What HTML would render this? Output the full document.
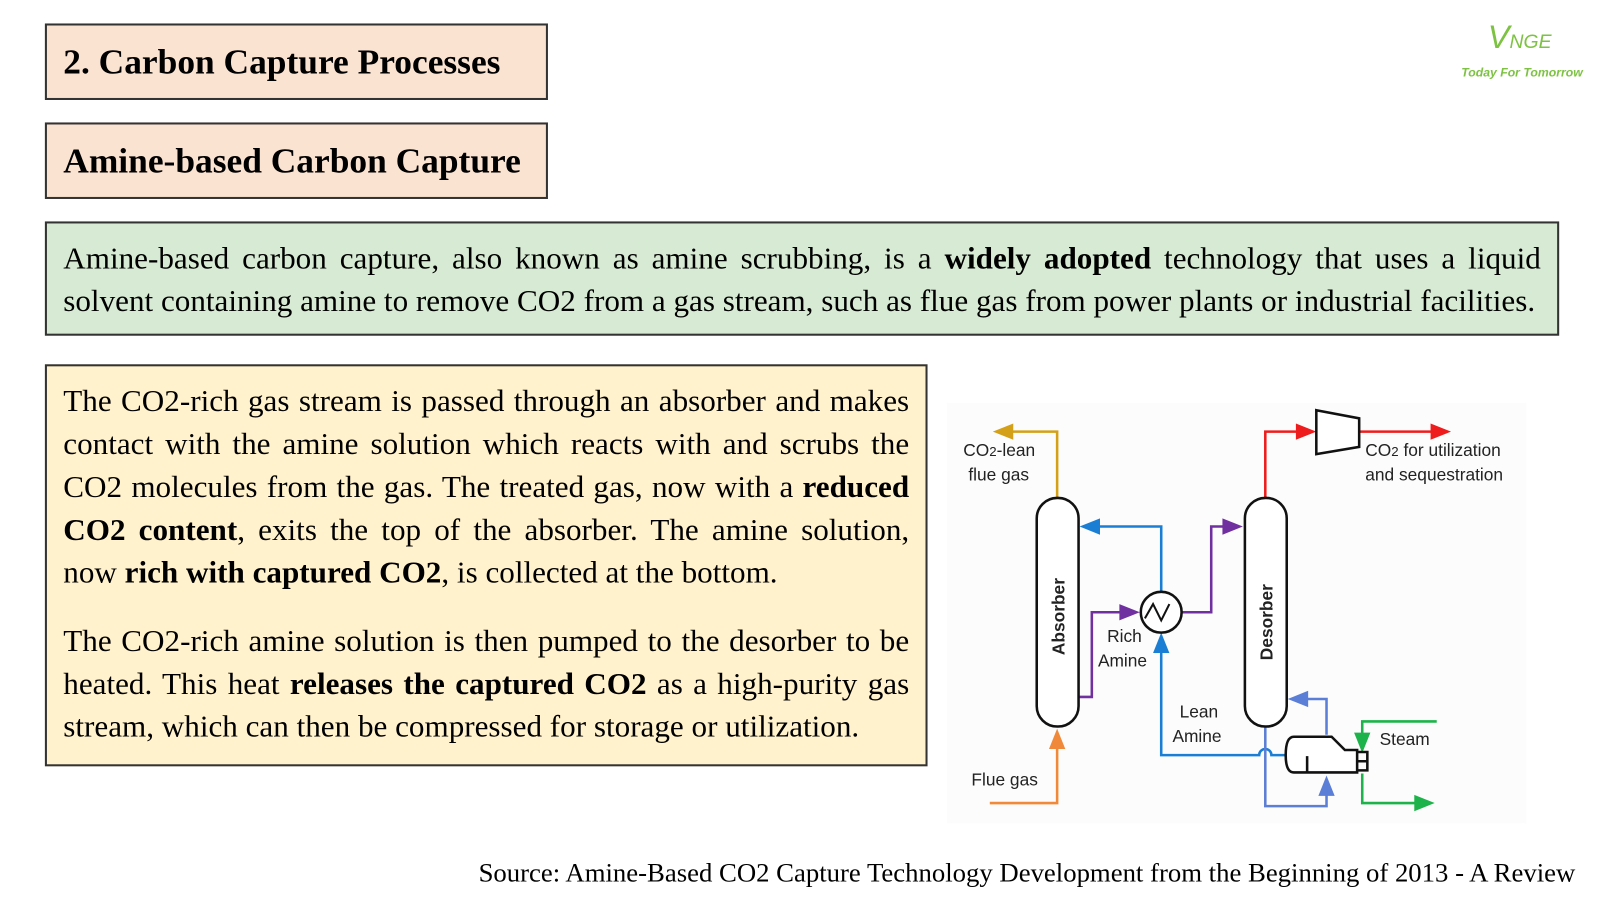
<!DOCTYPE html>
<html><head><meta charset="utf-8"><style>
body{margin:0;width:1600px;height:900px;background:#fff;overflow:hidden}
#w{position:absolute;left:0;top:0;width:1568px;height:882px;transform:scale(1.0204);transform-origin:0 0;font-family:"Liberation Serif",serif}
.box{position:absolute;border:2px solid #333;box-sizing:border-box}
.t{background:#fbe3d1;font-weight:bold;font-size:34.7px;padding-left:16px;line-height:72px}
p{margin:0}
</style></head><body><div id="w">
<div class="box t" style="left:44px;top:23px;width:493px;height:75px">2. Carbon Capture Processes</div>
<div class="box t" style="left:44px;top:120px;width:493px;height:75px">Amine-based Carbon Capture</div>
<div class="box" style="left:44px;top:217px;width:1484px;height:112px;background:#d7ead3;font-size:30.5px;line-height:42px;padding:13px 16px 0 16px;text-align:justify">Amine-based carbon capture, also known as amine scrubbing, is a <b>widely adopted</b> technology that uses a liquid solvent containing amine to remove CO2 from a gas stream, such as flue gas from power plants or industrial facilities.</div>
<div class="box" style="left:44px;top:357px;width:865px;height:394px;background:#fff2cc;font-size:30.5px;line-height:42px;padding:13px 16px 0 16px;text-align:justify">
<p>The CO2-rich gas stream is passed through an absorber and makes contact with the amine solution which reacts with and scrubs the CO2 molecules from the gas. The treated gas, now with a <b>reduced CO2 content</b>, exits the top of the absorber. The amine solution, now <b>rich with captured CO2</b>, is collected at the bottom.</p>
<p style="margin-top:25px">The CO2-rich amine solution is then pumped to the desorber to be heated. This heat <b>releases the captured CO2</b> as a high-purity gas stream, which can then be compressed for storage or utilization.</p>
</div>
<div style="position:absolute;left:1458px;top:18px;color:#7dc242;font-family:'Liberation Sans',sans-serif;font-style:italic;font-size:32px">V<span style="font-size:19px">NGE</span></div>
<div style="position:absolute;left:1432px;top:64px;color:#7dc242;font-family:'Liberation Sans',sans-serif;font-style:italic;font-weight:bold;font-size:12px">Today For Tomorrow</div>
<div style="position:absolute;left:469px;top:841px;font-size:26.2px">Source: Amine-Based CO2 Capture Technology Development from the Beginning of 2013 - A Review</div>
<svg style="position:absolute;left:0;top:0" width="1568" height="882" font-family="Liberation Sans, sans-serif">
<rect x="928" y="395" width="568" height="412" fill="#fcfcfc"/>
<g fill="none" stroke-width="2.5">
<path d="M970 787H1036V730" stroke="#f08a3a"/>
<path d="M1036 488V423H990" stroke="#d4a017"/>
<path d="M1057 683H1070V600H1102" stroke="#7030a0"/>
<path d="M1158 600H1187V516H1204" stroke="#7030a0"/>
<path d="M1138 580V516H1073" stroke="#1a7fd4"/>
<path d="M1138 636V740H1234a6 6 0 0 1 12 0H1262" stroke="#1a7fd4"/>
<path d="M1240 488V423H1276M1332 423H1408" stroke="#ee1c1c"/>
<path d="M1240 712V790H1300V775M1300 720V685H1278" stroke="#5b7fd6"/>
<path d="M1408 707H1335V722M1335 758V787H1392" stroke="#1db34a"/>
</g>
<g stroke="none">
<path d="M1036 714l-8 20h16z" fill="#f08a3a"/>
<path d="M973 423l20-8v16z" fill="#d4a017"/>
<path d="M1117 600l-20-8v16z" fill="#7030a0"/>
<path d="M1218 516l-20-8v16z" fill="#7030a0"/>
<path d="M1058 516l20-8v16z" fill="#1a7fd4"/>
<path d="M1138 620l-8 20h16z" fill="#1a7fd4"/>
<path d="M1290 423l-20-8v16z" fill="#ee1c1c"/>
<path d="M1422 423l-20-8v16z" fill="#ee1c1c"/>
<path d="M1300 760l-8 20h16z" fill="#5b7fd6"/>
<path d="M1262 685l20-8v16z" fill="#5b7fd6"/>
<path d="M1335 738l-8-20h16z" fill="#1db34a"/>
<path d="M1406 787l-20-8v16z" fill="#1db34a"/>
</g>
<g fill="#fff" stroke="#111" stroke-width="2.5">
<rect x="1016" y="488" width="41" height="224" rx="20"/>
<rect x="1220" y="488" width="41" height="224" rx="20"/>
<circle cx="1138" cy="600" r="20"/>
<path d="M1290 402L1332 410V438L1290 445Z"/>
<path d="M1268 722H1305L1318 735H1330V757H1268Q1260 757 1260 740Q1260 722 1268 722Z"/>
<path d="M1330 737h10v18h-10M1330 746h10M1281 741v16" fill="none"/>
<path d="M1122 606l8-14 8 16 8-16" fill="none" stroke-width="2"/>
</g>
<g font-size="17" fill="#222">
<text x="944" y="447">CO<tspan font-size="13">2</tspan>-lean</text>
<text x="949" y="471">flue gas</text>
<text x="1338" y="447">CO<tspan font-size="13">2</tspan> for utilization</text>
<text x="1338" y="471">and sequestration</text>
<text x="1085" y="629">Rich</text>
<text x="1076" y="653">Amine</text>
<text x="1156" y="703">Lean</text>
<text x="1149" y="727">Amine</text>
<text x="1352" y="730">Steam</text>
<text x="952" y="770">Flue gas</text>
<text transform="translate(1043,642) rotate(-90)" font-weight="bold">Absorber</text>
<text transform="translate(1247,647) rotate(-90)" font-weight="bold">Desorber</text>
</g>
</svg>
</div></body></html>
